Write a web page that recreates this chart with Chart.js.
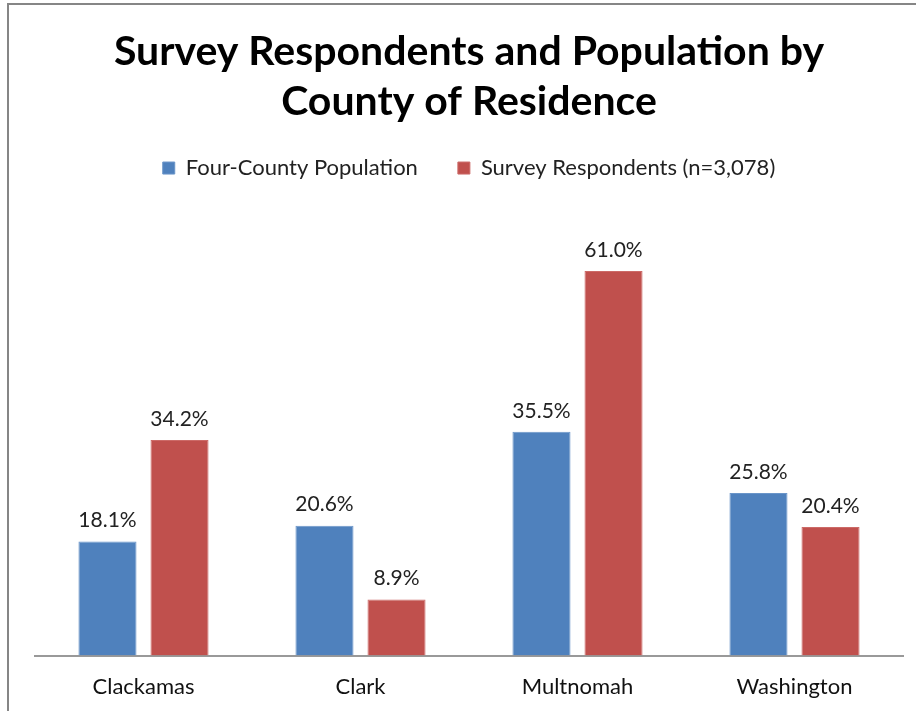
<!DOCTYPE html>
<html>
<head>
<meta charset="utf-8">
<title>Survey Respondents and Population by County of Residence</title>
<script src="https://cdn.jsdelivr.net/npm/chart.js@4/dist/chart.umd.min.js"></script>
<style>
  html, body { margin: 0; padding: 0; background: #fff; }
  #wrap { width: 916px; height: 711px; }
</style>
</head>
<body>
<div id="wrap"><canvas id="countyChart" width="916" height="711"></canvas></div>
<script>
const counties = ["Clackamas", "Clark", "Multnomah", "Washington"];
const populationPct = [18.1, 20.6, 35.5, 25.8];
const respondentPct = [34.2, 8.9, 61.0, 20.4];
const seriesNames = ["Four-County Population", "Survey Respondents (n=3,078)"];

const fontFamily = "Lato, 'Open Sans', sans-serif";

// white background plus the grey frame along the top and left edge
const framePlugin = {
  id: "frame",
  beforeDraw(chart) {
    const c = chart.ctx;
    c.save();
    c.fillStyle = "#fff";
    c.fillRect(0, 0, chart.width, chart.height);
    c.strokeStyle = "#868686";
    c.lineWidth = 2;
    c.beginPath();
    c.moveTo(8, chart.height);
    c.lineTo(8, 4);
    c.lineTo(chart.width, 4);
    c.stroke();
    c.restore();
  }
};

// percentage above each bar
const valueLabels = {
  id: "valueLabels",
  afterDatasetsDraw(chart) {
    const c = chart.ctx;
    c.save();
    c.font = "21px " + fontFamily;
    c.fillStyle = "#222";
    c.textAlign = "center";
    c.textBaseline = "middle";
    chart.data.datasets.forEach((ds, i) => {
      chart.getDatasetMeta(i).data.forEach((bar, j) => {
        c.fillText(ds.data[j].toFixed(1) + "%", bar.x, bar.y - 21);
      });
    });
    c.restore();
  }
};

const ctx = document.getElementById("countyChart").getContext("2d");

const chart = new Chart(ctx, {
  type: "bar",
  data: {
    labels: counties,
    datasets: [
      {
        label: seriesNames[0],
        data: populationPct,
        backgroundColor: "#4F81BD",
        borderColor: "#6a95c9",
        borderWidth: 1,
      },
      {
        label: seriesNames[1],
        data: respondentPct,
        backgroundColor: "#C0504D",
        borderColor: "#cc6a67",
        borderWidth: 1,
      },
    ],
  },
  options: {
    responsive: false,
    animation: false,
    layout: {
      padding: { top: 27, left: 35, right: 13, bottom: 0 },
    },
    categoryPercentage: 0.664,
    barPercentage: 0.806,
    scales: {
      x: {
        grid: { display: false },
        border: { display: true, color: "#999", width: 2 },
        ticks: {
          color: "#111",
          padding: 10.5,
          font: { family: fontFamily, size: 22 },
        },
      },
      y: {
        display: false,
        min: 0,
        max: 74,
      },
    },
    plugins: {
      title: {
        display: true,
        text: ["Survey Respondents and Population by", "County of Residence"],
        color: "#000",
        font: { family: fontFamily, size: 41, weight: "bold", lineHeight: 1.22 },
        padding: { top: 0, bottom: -10 },
      },
      legend: {
        labels: {
          color: "#222",
          boxWidth: 12,
          boxHeight: 12,
          padding: 40,
          font: { family: fontFamily, size: 22 },
        },
      },
      tooltip: { enabled: false },
    },
  },
  plugins: [framePlugin, valueLabels],
});
</script>
</body>
</html>
